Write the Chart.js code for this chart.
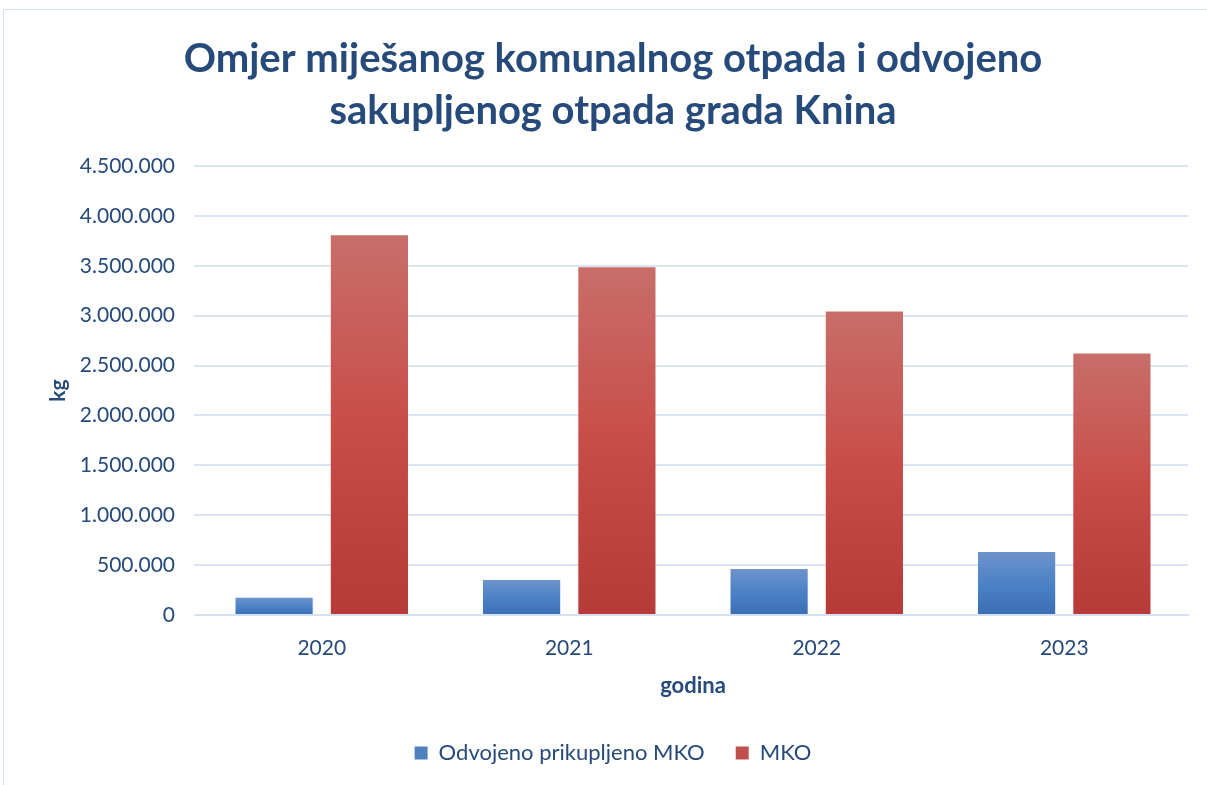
<!DOCTYPE html>
<html>
<head>
<meta charset="utf-8">
<script src="https://cdn.jsdelivr.net/npm/chart.js@4/dist/chart.umd.min.js"></script>
<style>
  html, body { margin: 0; padding: 0; background: #fff; }
  #wrap { position: relative; width: 1207px; height: 785px; overflow: hidden; }
  #frame { position: absolute; left: 3px; top: 9px; width: 1220px; height: 800px; border: 1px solid #D5E0F0; box-sizing: border-box; }
  canvas { position: absolute; left: 0; top: 0; }
</style>
</head>
<body>
<div id="wrap">
  <div id="frame"></div>
  <canvas id="c" width="1207" height="785"></canvas>
</div>
<script>
const categories = ['2020', '2021', '2022', '2023'];
const seriesNames = ['Odvojeno prikupljeno MKO', 'MKO'];
const separatedValues = [172000, 352000, 462000, 632000];
const mixedValues = [3805000, 3484000, 3042000, 2620000];
const titleLines = ['Omjer miješanog komunalnog otpada i odvojeno', 'sakupljenog otpada grada Knina'];
const yAxisTitle = 'kg';
const xAxisTitle = 'godina';

const TEXT = '#264A7A';
const FONT = 'Lato, "Open Sans", sans-serif';

function gradientFor(ctx, stops, fallback) {
  const chart = ctx.chart;
  const ys = chart.scales && chart.scales.y;
  if (!ys || !chart.chartArea || ctx.raw === undefined) return fallback;
  const top = ys.getPixelForValue(ctx.raw);
  const base = ys.getPixelForValue(0);
  if (!isFinite(top) || !isFinite(base) || top === base) return fallback;
  const g = chart.ctx.createLinearGradient(0, top, 0, base);
  stops.forEach(s => g.addColorStop(s[0], s[1]));
  return g;
}
const blueStops = [[0, '#6E93CC'], [0.5, '#4C82C6'], [1, '#3A6EB3']];
const redStops = [[0, '#C86E69'], [0.5, '#C84D49'], [1, '#B53A38']];

new Chart(document.getElementById('c'), {
  type: 'bar',
  data: {
    labels: categories,
    datasets: [
      {
        label: seriesNames[0],
        data: separatedValues,
        backgroundColor: (ctx) => gradientFor(ctx, blueStops, '#4F81BD'),
        categoryPercentage: 0.77,
        barPercentage: 0.81
      },
      {
        label: seriesNames[1],
        data: mixedValues,
        backgroundColor: (ctx) => gradientFor(ctx, redStops, '#C0504D'),
        categoryPercentage: 0.77,
        barPercentage: 0.81
      }
    ]
  },
  options: {
    responsive: false,
    animation: false,
    layout: { padding: { left: 38, right: 19, top: 0, bottom: 11 } },
    plugins: {
      title: {
        display: true,
        text: titleLines,
        color: TEXT,
        font: { family: FONT, size: 40, weight: 'bold', lineHeight: 1.3 },
        padding: { top: 33, bottom: 29 }
      },
      legend: {
        display: true,
        position: 'bottom',
        labels: {
          color: TEXT,
          font: { family: FONT, size: 22 },
          boxWidth: 13,
          boxHeight: 13,
          padding: 31,
          generateLabels: (chart) => chart.data.datasets.map((ds, i) => ({
            text: ds.label,
            fillStyle: i === 0 ? '#4F81BD' : '#C0504D',
            strokeStyle: 'rgba(0,0,0,0)',
            lineWidth: 0,
            hidden: false,
            datasetIndex: i,
            fontColor: TEXT
          }))
        }
      },
      tooltip: { enabled: false }
    },
    scales: {
      x: {
        grid: { display: false },
        border: { display: true, color: '#D5E0F0', width: 2 },
        ticks: { color: TEXT, font: { family: FONT, size: 21 }, padding: 13 },
        title: {
          display: true,
          text: xAxisTitle,
          color: TEXT,
          font: { family: FONT, size: 22, weight: 'bold', lineHeight: 1.2 },
          padding: { top: 0, bottom: 12 }
        },
        afterFit: (scale) => { scale.height = 96; }
      },
      y: {
        min: 0,
        max: 4500000,
        grid: { color: '#DAE4F4', lineWidth: 2, tickLength: 4 },
        border: { display: false },
        ticks: {
          stepSize: 500000,
          color: TEXT,
          font: { family: FONT, size: 21 },
          padding: 19,
          callback: (v) => v === 0 ? '0' : String(v).replace(/\B(?=(\d{3})+(?!\d))/g, '.')
        },
        title: {
          display: true,
          text: yAxisTitle,
          color: TEXT,
          font: { family: FONT, size: 21, weight: 'bold', lineHeight: 1.2 },
          padding: { top: 8, bottom: 0 }
        },
        afterFit: (scale) => { scale.width = 160; }
      }
    }
  }
});
</script>
</body>
</html>
